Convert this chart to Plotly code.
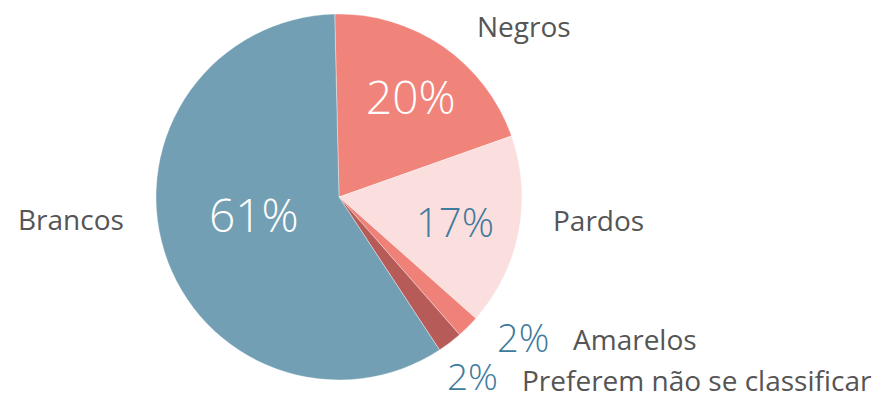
import plotly.graph_objects as go

# Data (clockwise from top)
categories = ["Negros", "Pardos", "Amarelos", "Preferem não se classificar", "Brancos"]
values = [20, 17, 2, 2.2, 59]
pct_labels = ["20%", "17%", "2%", "2%", "61%"]
colors = ["#F0837A", "#FBDFDE", "#EF8179", "#B65B58", "#739FB4"]

W, H = 883, 401
cx, cy, r = 339, 197, 183

fig = go.Figure(go.Pie(
    labels=categories,
    values=values,
    sort=False,
    direction="clockwise",
    rotation=-1.35,
    marker=dict(colors=colors, line=dict(color="rgba(255,255,255,0.6)", width=0.6)),
    textinfo="none",
    hoverinfo="label+percent",
    showlegend=False,
    domain=dict(x=[(cx - r) / W, (cx + r) / W], y=[(H - cy - r) / H, (H - cy + r) / H]),
))

BLUE = "#3F7B9C"
GRAY = "#555555"
FONT = "Open Sans"

def px(x, y):
    return x / W, 1 - y / H

ann = []
def add(text, x, y, size, color, weight=400, xanchor="center"):
    xx, yy = px(x, y)
    ann.append(dict(text=text, x=xx, y=yy, xref="paper", yref="paper", showarrow=False,
                    xanchor=xanchor, yanchor="middle", borderpad=0,
                    font=dict(family=FONT, size=size, color=color, weight=weight)))

# percentages
add(pct_labels[4], 254, 214, 46, "white", 300)
add(pct_labels[0], 411, 96, 46, "white", 300)
add(pct_labels[1], 455, 221, 40, BLUE, 300)
add(pct_labels[2], 523, 337, 38, BLUE, 300)
add(pct_labels[3], 472, 375, 37, BLUE, 300)
# category names
add(categories[0], 524, 26, 28, GRAY)
add(categories[1], 598, 220, 28, GRAY)
add(categories[4], 71, 219, 28, GRAY)
add(categories[2], 572, 339, 28, GRAY, xanchor="left")
add(categories[3], 521, 380, 28, GRAY, xanchor="left")

fig.update_layout(
    width=W, height=H,
    margin=dict(l=0, r=0, t=0, b=0),
    paper_bgcolor="white",
    plot_bgcolor="white",
    annotations=ann,
)

fig.write_html("out.html", config={"displayModeBar": False},
               post_script="document.body.style.margin='0';document.body.style.padding='0';")
